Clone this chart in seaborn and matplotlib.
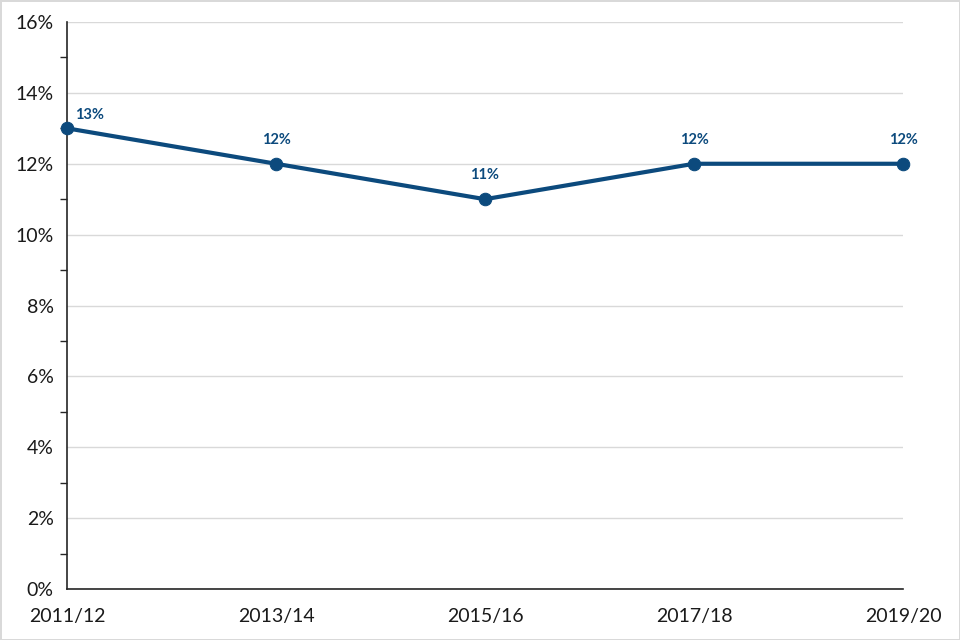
import matplotlib.pyplot as plt
import matplotlib.ticker as mticker
import seaborn as sns

# Данные
years = ['2011/12', '2013/14', '2015/16', '2017/18', '2019/20']
values = [13, 12, 11, 12, 12]
labels = ['13%', '12%', '11%', '12%', '12%']

navy = '#0C4A7D'

sns.set_style('white')
plt.rcParams['font.family'] = ['Lato', 'DejaVu Sans']

fig = plt.figure(figsize=(9.6, 6.4), dpi=100, edgecolor='#D9D9D9', linewidth=2)
ax = fig.add_axes([0.0698, 0.0797, 0.8708, 0.8859])

sns.lineplot(x=years, y=values, ax=ax, color=navy, linewidth=3,
             marker='o', markersize=9, markeredgecolor=navy, zorder=3,
             clip_on=False)

# Подписи значений
for i, (v, lab) in enumerate(zip(values, labels)):
    if i == 0:
        ax.annotate(lab, (i, v), xytext=(23, 13), textcoords='offset pixels',
                    ha='center', va='center', color=navy, fontsize=10.5, fontweight='bold')
    else:
        ax.annotate(lab, (i, v), xytext=(0, 24), textcoords='offset pixels',
                    ha='center', va='center', color=navy, fontsize=10.5, fontweight='bold')

ax.set_xlim(0, 4)
ax.set_ylim(0, 16)
ax.set_yticks(range(0, 17, 2))
ax.yaxis.set_major_formatter(mticker.FuncFormatter(lambda v, p: f'{v:.0f}%'))
ax.yaxis.set_minor_locator(mticker.MultipleLocator(1))
ax.grid(axis='y', color='#D9D9D9', linewidth=1)
ax.set_axisbelow(True)

for s in ['top', 'right']:
    ax.spines[s].set_visible(False)
for s in ['left', 'bottom']:
    ax.spines[s].set_color('#262626')
    ax.spines[s].set_linewidth(1.2)

ax.tick_params(axis='both', which='both', direction='out', color='#262626',
               labelsize=14, labelcolor='#1A1A1A')
ax.tick_params(axis='both', which='major', length=6, width=1)
ax.tick_params(axis='y', which='minor', length=5, width=1, left=True)
ax.tick_params(axis='x', pad=8)
ax.set_xlabel('')
ax.set_ylabel('')

fig.savefig('out.png', dpi=100)
